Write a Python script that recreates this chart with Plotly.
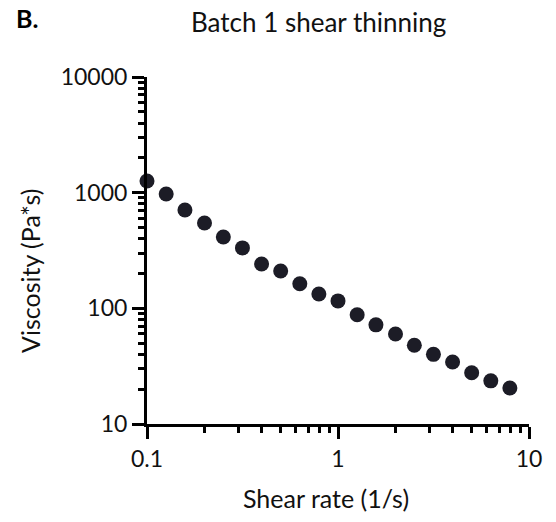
import plotly.graph_objects as go

shear_rate = [0.1, 0.126, 0.158, 0.2, 0.251, 0.316, 0.398, 0.501, 0.631, 0.794,
              1.0, 1.26, 1.58, 2.0, 2.51, 3.16, 3.98, 5.01, 6.31, 7.94]
viscosity = [1262, 975, 708, 547, 414, 333, 242, 210, 163, 133,
             116, 88, 72, 60, 48, 40, 34.4, 27.7, 23.6, 20.5]

x_ticks = [0.1, 1, 10]
x_tick_text = ["0.1", "1", "10"]
y_ticks = [10, 100, 1000, 10000]
y_tick_text = ["10", "100", "1000", "10000"]

FONT = "Lato"
INK = "#000000"

W, H = 556, 522
L, R, T, B = 147, 27, 77, 98
PW, PH = W - L - R, H - T - B


def px(x):
    return (x - L) / PW


def py(y):
    return (H - B - y) / PH


fig = go.Figure()
fig.add_trace(go.Scatter(
    x=shear_rate, y=viscosity, mode="markers",
    marker=dict(size=15, color="#1c1c26", line=dict(width=0)),
    cliponaxis=False, showlegend=False,
))

axis_common = dict(
    type="log", showgrid=False, zeroline=False,
    showline=True, linecolor=INK, linewidth=3,
    ticks="outside", ticklen=12, tickwidth=3, tickcolor=INK,
    tickfont=dict(family=FONT, size=23, color="#111111"),
    minor=dict(ticks="outside", ticklen=6, tickwidth=2.5, tickcolor=INK, dtick="D1", showgrid=False),
)

fig.update_xaxes(range=[-1, 1], tickvals=x_ticks, ticktext=x_tick_text, **axis_common)
fig.update_yaxes(range=[1, 4], tickvals=y_ticks, ticktext=y_tick_text, **axis_common)

fig.update_layout(
    width=W, height=H,
    margin=dict(l=L, r=R, t=T, b=B, autoexpand=False),
    plot_bgcolor="white", paper_bgcolor="white",
    font=dict(family=FONT, color="#111111"),
    annotations=[
        dict(text="<b>B.</b>", x=px(14), y=py(18), xref="paper", yref="paper",
             xanchor="left", yanchor="middle", showarrow=False,
             font=dict(family=FONT, size=25, color="#000000")),
        dict(text="Batch 1 shear thinning", x=px(318), y=py(22), xref="paper", yref="paper",
             xanchor="center", yanchor="middle", showarrow=False,
             font=dict(family=FONT, size=26, color="#111111")),
        dict(text="Shear rate (1/s)", x=px(326), y=py(498), xref="paper", yref="paper",
             xanchor="center", yanchor="middle", showarrow=False,
             font=dict(family=FONT, size=25, color="#111111")),
        dict(text="Viscosity (Pa*s)", x=px(30), y=py(271), xref="paper", yref="paper",
             xanchor="center", yanchor="middle", showarrow=False, textangle=-90,
             font=dict(family=FONT, size=25, color="#111111")),
    ],
)

fig.write_html("out.html")
